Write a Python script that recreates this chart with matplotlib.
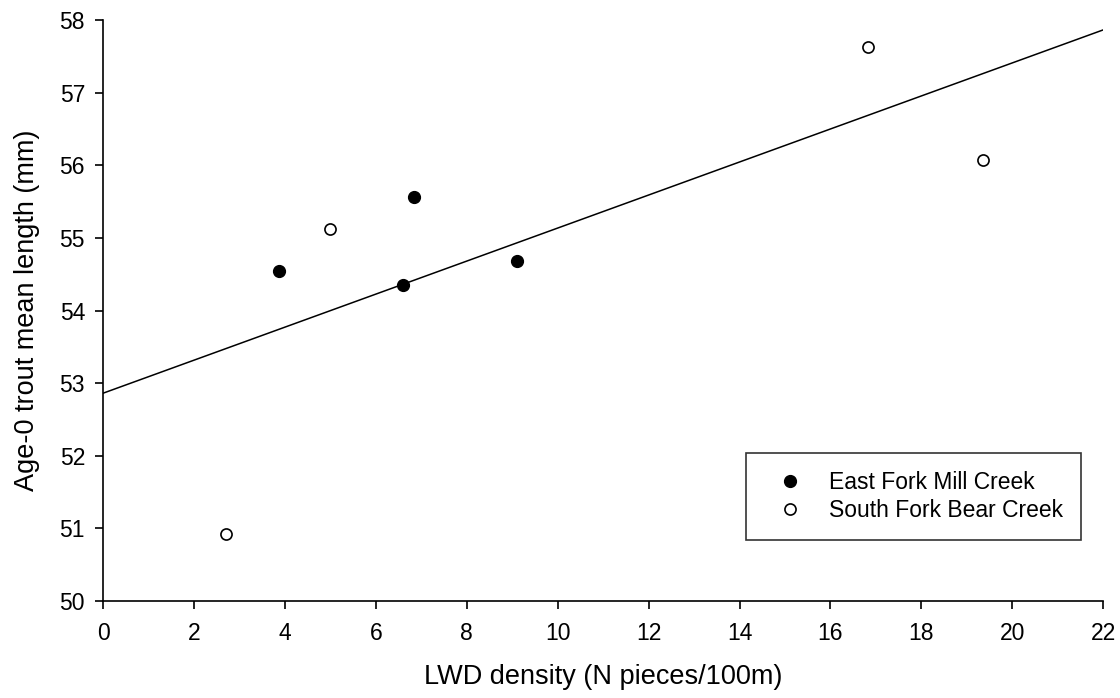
import numpy as np
import matplotlib
matplotlib.use('Agg')
import matplotlib.pyplot as plt

plt.rcParams['font.family'] = ['Liberation Sans', 'DejaVu Sans']

# East Fork Mill Creek (filled)
efmc_x = [3.87, 6.85, 6.60, 9.10]
efmc_y = [54.55, 55.56, 54.35, 54.69]
# South Fork Bear Creek (open)
sfbc_x = [2.71, 4.99, 16.83, 19.35]
sfbc_y = [50.92, 55.12, 57.63, 56.07]

xticks = list(range(0, 23, 2))
yticks = list(range(50, 59))

fig = plt.figure(figsize=(11.2, 6.98), dpi=100)
ax = fig.add_axes([0.092, 0.139, 0.893, 0.832])

# regression line through all points
all_x = np.array(efmc_x + sfbc_x)
all_y = np.array(efmc_y + sfbc_y)
slope, intercept = np.polyfit(all_x, all_y, 1)
lx = np.array([0, 22])
ax.plot(lx, intercept + slope * lx, color='black', lw=1.1, zorder=1)

ax.plot(efmc_x, efmc_y, 'o', color='black', ms=8.5, ls='none',
        label='East Fork Mill Creek', zorder=3)
ax.plot(sfbc_x, sfbc_y, 'o', mfc='white', mec='black', mew=1.2, ms=8,
        ls='none', label='South Fork Bear Creek', zorder=3)

ax.set_xlim(0, 22)
ax.set_ylim(50, 58)
ax.set_xticks(xticks)
ax.set_yticks(yticks)
ax.spines['top'].set_visible(False)
ax.spines['right'].set_visible(False)
for s in ['left', 'bottom']:
    ax.spines[s].set_linewidth(1.2)
ax.tick_params(direction='out', length=6, width=1.2, labelsize=16.5)
ax.tick_params(axis='x', pad=9)
ax.tick_params(axis='y', pad=7)

ax.set_xlabel('LWD density (N pieces/100m)', fontsize=19.5, labelpad=14)
ax.set_ylabel('Age-0 trout mean length (mm)', fontsize=19.5, labelpad=14)

leg = ax.legend(loc='lower right', bbox_to_anchor=(0.978, 0.105),
                fontsize=16.5, frameon=True, fancybox=False,
                edgecolor='black', borderpad=0.8, handletextpad=0.6,
                labelspacing=0.2, borderaxespad=0, handlelength=2.2)
leg.get_frame().set_linewidth(1.2)

fig.savefig('out.png', dpi=100)
